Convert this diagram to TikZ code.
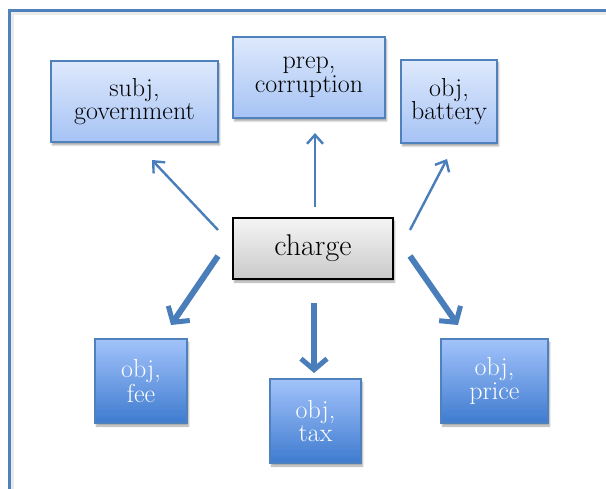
\documentclass[tikz,border=0pt]{standalone}
\usetikzlibrary{arrows.meta,shadows.blur}
\definecolor{frameblue}{HTML}{4F81BD}
\definecolor{arrowblue}{HTML}{4A7EBB}
\definecolor{lighttop}{HTML}{DEE9FC}
\definecolor{lightbot}{HTML}{A6C3F5}
\definecolor{darktop}{HTML}{A2C3FB}
\definecolor{darkbot}{HTML}{3F7BCF}
\begin{document}
\begin{tikzpicture}[x=1pt,y=-1pt,
  boxshadow/.style={blur shadow={shadow xshift=1.5pt,shadow yshift=-3pt,shadow blur steps=6,shadow opacity=35}},
  lightbox/.style={draw=frameblue,line width=1.8pt,top color=lighttop,bottom color=lightbot,
    align=center,inner sep=0pt,boxshadow,font=\fontsize{26}{23.5}\selectfont},
  darkbox/.style={draw=frameblue,line width=1.8pt,top color=darktop,bottom color=darkbot,
    text=white,align=center,inner sep=0pt,boxshadow,font=\fontsize{26}{23.5}\selectfont},
  headbox/.style={draw=black,line width=1.6pt,top color=gray!8,bottom color=gray!42,
    inner sep=0pt,boxshadow,font=\fontsize{30}{30}\selectfont},
  thinarrow/.style={draw=arrowblue,line width=2.4pt,-{Straight Barb[length=9pt,width=16pt,line width=2.4pt]}},
  thickarrow/.style={draw=arrowblue,line width=6pt,-{Straight Barb[length=11pt,width=26pt,line width=5pt]}}]
\useasboundingbox (0,0) rectangle (606,489);
\begin{scope}
  \clip (0,0) rectangle (606,489);
  % outer frame, running off the right and bottom edges, with a soft inner edge
  \draw[black!8,line width=3pt] (12.5,14) rectangle (640,520);
  \draw[frameblue,line width=2.2pt] (9.5,10.5) rectangle (640,520);
\end{scope}

% dependency nodes
\node[lightbox,minimum width=167pt,minimum height=81pt] (gov) at (134.5,101.5) {subj,\\government};
\node[lightbox,minimum width=152pt,minimum height=81pt] (prep) at (309,77.5) {prep,\\corruption};
\node[lightbox,minimum width=96pt,minimum height=83pt] (bat) at (449,101.5) {obj,\\battery};
\node[headbox,minimum width=160pt,minimum height=61pt] (charge) at (313,248.5) {charge};
\node[darkbox,minimum width=92pt,minimum height=84pt] (fee) at (141,381) {obj,\\fee};
\node[darkbox,minimum width=91pt,minimum height=84pt] (tax) at (315.5,421) {obj,\\tax};
\node[darkbox,minimum width=107pt,minimum height=84pt] (price) at (494.5,381) {obj,\\price};

% arrow end points
\coordinate (gS) at (218,230);  \coordinate (gE) at (152,160);
\coordinate (pS) at (315,207);  \coordinate (pE) at (315,133);
\coordinate (bS) at (410,230);  \coordinate (bE) at (447,159);
\coordinate (fS) at (218,256);  \coordinate (fE) at (171,325);
\coordinate (tS) at (314,303);  \coordinate (tE) at (314,373);
\coordinate (rS) at (410,256);  \coordinate (rE) at (458,325);

\draw[thinarrow] (gS) -- (gE);
\draw[thinarrow] (pS) -- (pE);
\draw[thinarrow] (bS) -- (bE);
\draw[thickarrow] (fS) -- (fE);
\draw[thickarrow] (tS) -- (tE);
\draw[thickarrow] (rS) -- (rE);
\end{tikzpicture}
\end{document}
